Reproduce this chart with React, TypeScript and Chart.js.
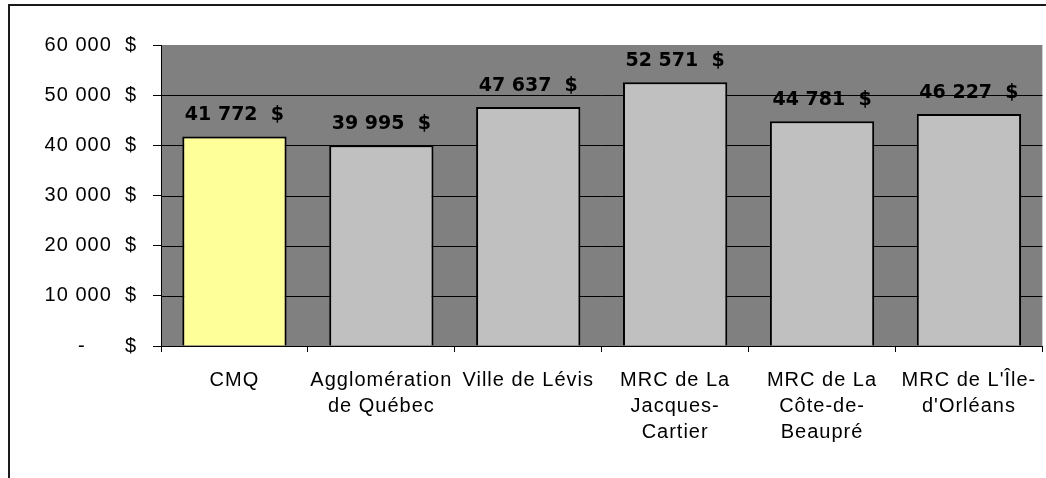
import React, { useEffect, useRef } from "react";
import { Chart, registerables } from "chart.js";

Chart.register(...registerables);

const categories: string[][] = [
  ["CMQ"],
  ["Agglomération", "de Québec"],
  ["Ville de Lévis"],
  ["MRC de La", "Jacques-", "Cartier"],
  ["MRC de La", "Côte-de-", "Beaupré"],
  ["MRC de L'Île-", "d'Orléans"],
];
const values: number[] = [41772, 39995, 47637, 52571, 44781, 46227];
const barColors: string[] = ["#FFFF99", "#C0C0C0", "#C0C0C0", "#C0C0C0", "#C0C0C0", "#C0C0C0"];
const yMin = 0;
const yMax = 60000;
const yStep = 10000;

const fmt = (n: number) => String(Math.round(n)).replace(/\B(?=(\d{3})+(?!\d))/g, " ") + "  $";

const bgPlugin = {
  id: "bgPlugin",
  beforeDraw(chart: any) {
    const { ctx, chartArea } = chart;
    ctx.save();
    ctx.fillStyle = "#ffffff";
    ctx.fillRect(0, 0, chart.width, chart.height);
    ctx.strokeStyle = "#1a1a1a";
    ctx.lineWidth = 2;
    ctx.beginPath();
    ctx.moveTo(9, chart.height + 5);
    ctx.lineTo(9, 5);
    ctx.lineTo(chart.width + 5, 5);
    ctx.stroke();
    ctx.fillStyle = "#808080";
    ctx.fillRect(chartArea.left, chartArea.top, chartArea.right - chartArea.left, chartArea.bottom - chartArea.top);
    ctx.restore();
    ctx.letterSpacing = "1px";
  },
  beforeDatasetsDraw(chart: any) {
    const { ctx, chartArea } = chart;
    const y = chart.scales.y;
    ctx.save();
    ctx.strokeStyle = "#000";
    ctx.lineWidth = 1;
    y.ticks.forEach((t: any) => {
      if (t.value === yMin || t.value === yMax) return;
      const py = Math.round(y.getPixelForValue(t.value)) + 0.5;
      ctx.beginPath();
      ctx.moveTo(chartArea.left, py);
      ctx.lineTo(chartArea.right, py);
      ctx.stroke();
    });
    ctx.restore();
  },
  afterDatasetsDraw(chart: any) {
    const { ctx } = chart;
    const meta = chart.getDatasetMeta(0);
    ctx.save();
    ctx.letterSpacing = "0px";
    ctx.fillStyle = "#000";
    ctx.font = "bold 19px 'DejaVu Sans', Verdana, sans-serif";
    ctx.textAlign = "center";
    ctx.textBaseline = "middle";
    meta.data.forEach((bar: any, i: number) => {
      ctx.fillText(fmt(values[i]), bar.x, bar.y - 21);
    });
    ctx.restore();
  },
};

export default function App() {
  const canvasRef = useRef<HTMLCanvasElement | null>(null);

  useEffect(() => {
    document.body.style.margin = "0";
    const canvas = canvasRef.current;
    if (!canvas) return;
    const chart = new Chart(canvas, {
      type: "bar",
      data: {
        labels: categories,
        datasets: [
          {
            data: values,
            backgroundColor: barColors,
            borderColor: "#000000",
            borderWidth: 2,
            barPercentage: 0.71,
            categoryPercentage: 1,
          },
        ],
      },
      options: {
        animation: false,
        responsive: false,
        devicePixelRatio: 1,
        layout: { padding: { top: 45, right: 3, left: 0, bottom: 0 } },
        plugins: {
          legend: { display: false },
          tooltip: { enabled: false },
          title: { display: false },
        },
        scales: {
          x: {
            afterFit: (s: any) => {
              s.height = 132;
            },
            grid: {
              offset: true,
              drawOnChartArea: false,
              tickLength: 6,
              color: "#000",
              lineWidth: 1,
            },
            border: { display: true, color: "#000", width: 1 },
            ticks: {
              color: "#000",
              font: { family: "'Liberation Sans', Arial, sans-serif", size: 20, lineHeight: 1.28 },
              padding: 16,
              maxRotation: 0,
              autoSkip: false,
            },
          },
          y: {
            min: yMin,
            max: yMax,
            afterFit: (s: any) => {
              s.width = 161;
            },
            grid: {
              drawOnChartArea: false,
              tickLength: 8,
              color: "#000",
              lineWidth: 1,
            },
            border: { display: true, color: "#000", width: 1 },
            ticks: {
              stepSize: yStep,
              color: "#000",
              padding: 16,
              font: { family: "'Liberation Sans', Arial, sans-serif", size: 20 },
              callback: (v: any) => (Number(v) === 0 ? "-      $" : fmt(Number(v))),
            },
          },
        },
      },
      plugins: [bgPlugin],
    });
    return () => chart.destroy();
  }, []);

  return (
    <div style={{ position: "relative", width: 1046, height: 478 }}>
      <canvas ref={canvasRef} width={1046} height={478} style={{ display: "block" }} />
    </div>
  );
}
